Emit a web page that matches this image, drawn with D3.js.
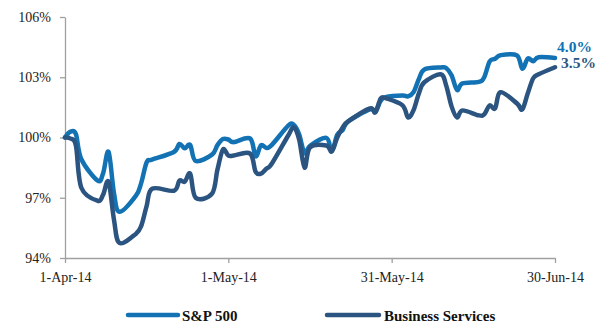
<!DOCTYPE html>
<html>
<head>
<meta charset="utf-8">
<script src="https://cdn.jsdelivr.net/npm/d3@7"></script>
<style>
  body { margin: 0; background: #fff; }
  svg { display: block; }
</style>
</head>
<body>
<svg id="chart" width="603" height="333"></svg>
<script>
// Trading days, 1 Apr 2014 to 30 Jun 2014
const tradingDays = [
  "2014-04-01","2014-04-02","2014-04-03","2014-04-04","2014-04-07","2014-04-08","2014-04-09","2014-04-10","2014-04-11",
  "2014-04-14","2014-04-15","2014-04-16","2014-04-17","2014-04-21","2014-04-22","2014-04-23","2014-04-24","2014-04-25",
  "2014-04-28","2014-04-29","2014-04-30","2014-05-01","2014-05-02","2014-05-05","2014-05-06","2014-05-07","2014-05-08",
  "2014-05-09","2014-05-12","2014-05-13","2014-05-14","2014-05-15","2014-05-16","2014-05-19","2014-05-20","2014-05-21",
  "2014-05-22","2014-05-23","2014-05-27","2014-05-28","2014-05-29","2014-05-30","2014-06-02","2014-06-03","2014-06-04",
  "2014-06-05","2014-06-06","2014-06-09","2014-06-10","2014-06-11","2014-06-12","2014-06-13","2014-06-16","2014-06-17",
  "2014-06-18","2014-06-19","2014-06-20","2014-06-23","2014-06-24","2014-06-25","2014-06-26","2014-06-27","2014-06-30"
];

// Indexed performance, 1 Apr 2014 = 100
const sp500 = [
  100.00,100.29,100.17,98.92,97.85,98.22,99.29,97.22,96.30,
  97.09,97.74,98.77,98.90,99.28,99.68,99.46,99.63,98.83,
  99.15,99.62,99.92,99.90,99.77,99.95,99.06,99.61,99.48,
  99.63,100.59,100.63,100.16,99.22,99.59,99.98,99.33,100.13,
  100.37,100.80,101.40,101.29,101.83,102.02,102.09,102.05,102.25,
  102.91,103.39,103.49,103.46,103.10,102.37,102.69,102.77,103.00,
  103.79,103.92,104.10,104.09,103.42,103.93,103.80,104.00,103.96
];

const businessServices = [
  100.00,99.95,99.60,97.50,96.85,97.15,97.80,95.90,94.75,
  95.20,95.60,96.60,97.45,97.35,97.85,97.80,98.20,97.00,
  97.20,98.40,99.40,99.10,99.10,99.20,98.30,98.20,98.45,
  98.70,100.10,100.50,99.90,98.50,99.50,99.60,99.30,100.00,
  100.50,100.80,101.45,101.25,101.95,101.95,101.60,101.00,101.35,
  102.20,102.75,103.15,102.60,101.55,101.00,101.35,101.10,101.15,
  101.60,101.45,102.25,101.70,101.40,102.20,102.95,103.15,103.50
];

const seriesNames = ["S&P 500", "Business Services"];
const seriesColors = ["#1272b3", "#2b5580"];
const yTickValues = [94, 97, 100, 103, 106];
const xTickDates = ["2014-04-01", "2014-05-01", "2014-05-31", "2014-06-30"];

const parse = d3.timeParse("%Y-%m-%d");
const dates = tradingDays.map(parse);

const svg = d3.select("#chart");
const margin = { left: 65, right: 48, top: 17, bottom: 75 };
const W = 603, H = 333;

const x = d3.scaleTime()
  .domain([parse(xTickDates[0]), parse(xTickDates[xTickDates.length - 1])])
  .range([margin.left, W - margin.right]);

const y = d3.scaleLinear()
  .domain([94, 106])
  .range([H - margin.bottom, margin.top]);

const serif = "'Liberation Serif', 'Times New Roman', serif";

// Axes
const xAxis = d3.axisBottom(x)
  .tickValues(xTickDates.map(parse))
  .tickFormat(d3.timeFormat("%-d-%b-%y"))
  .tickSize(5)
  .tickSizeOuter(0)
  .tickPadding(9);

const yAxis = d3.axisLeft(y)
  .tickValues(yTickValues)
  .tickFormat(d => d + "%")
  .tickSize(5)
  .tickSizeOuter(0)
  .tickPadding(9);

const gx = svg.append("g")
  .attr("transform", `translate(0,${y(94)})`)
  .call(xAxis);
const gy = svg.append("g")
  .attr("transform", `translate(${margin.left},0)`)
  .call(yAxis);

[gx, gy].forEach(g => {
  g.select(".domain").attr("stroke", "#a0a0a0").attr("stroke-width", 1.3);
  g.selectAll(".tick line").attr("stroke", "#a0a0a0").attr("stroke-width", 1.3);
  g.selectAll(".tick text")
    .attr("fill", "#222")
    .style("font-family", serif)
    .style("font-size", "14px");
});

// Lines
const allSeries = [sp500, businessServices];
const line = d3.line()
  .x((d, i) => x(dates[i]))
  .y(d => y(d))
  .curve(d3.curveCardinal.tension(0));

allSeries.forEach((vals, k) => {
  svg.append("path")
    .datum(vals)
    .attr("fill", "none")
    .attr("stroke", seriesColors[k])
    .attr("stroke-width", 4.5)
    .attr("stroke-linejoin", "round")
    .attr("stroke-linecap", "round")
    .attr("d", line);
});

// End-of-period return labels
const labelOffsets = [{ dx: 2, dy: -6 }, { dx: 6, dy: 1 }];
allSeries.forEach((vals, k) => {
  const last = vals[vals.length - 1];
  svg.append("text")
    .attr("x", x(dates[dates.length - 1]) + labelOffsets[k].dx)
    .attr("y", y(last) + labelOffsets[k].dy)
    .attr("fill", seriesColors[k])
    .style("font-family", serif)
    .style("font-size", "15.5px")
    .style("font-weight", "bold")
    .text((last - 100).toFixed(1) + "%");
});

// Legend
const legendItems = [
  { x0: 128, x1: 178, tx: 182 },
  { x0: 327, x1: 379, tx: 384 }
];
const legendY = 315;
legendItems.forEach((it, k) => {
  svg.append("line")
    .attr("x1", it.x0).attr("x2", it.x1)
    .attr("y1", legendY).attr("y2", legendY)
    .attr("stroke", seriesColors[k])
    .attr("stroke-width", 4.5)
    .attr("stroke-linecap", "round");
  svg.append("text")
    .attr("x", it.tx)
    .attr("y", legendY + 6)
    .attr("fill", "#111")
    .style("font-family", serif)
    .style("font-size", "15px")
    .style("font-weight", "bold")
    .text(seriesNames[k]);
});
</script>
</body>
</html>
